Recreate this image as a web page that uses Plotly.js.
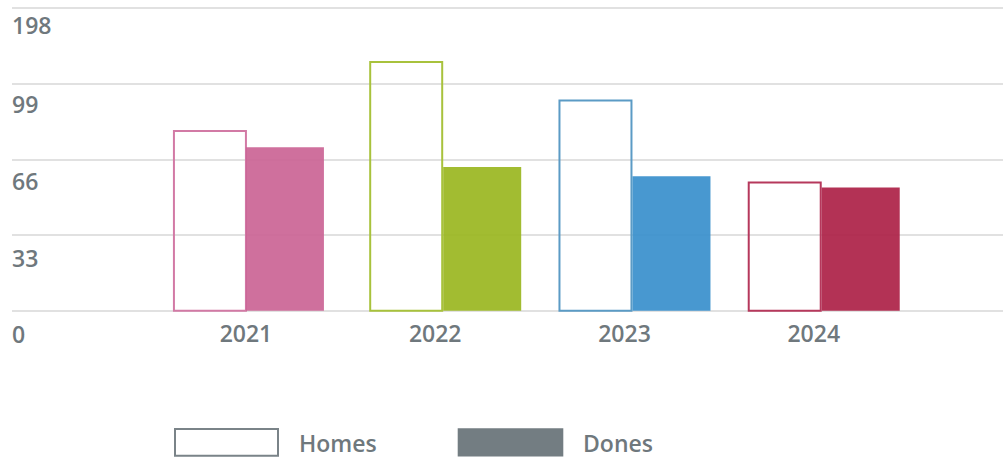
<!DOCTYPE html>
<html><head><meta charset="utf-8">
<script src="https://cdn.plot.ly/plotly-3.0.1.min.js"></script>
<style>html,body{margin:0;padding:0;background:#fff}#chart{width:1003px;height:458px}</style>
</head><body><div id="chart"></div>
<script>
const years = ['2021', '2022', '2023', '2024'];
const homes = [78.4, 108.6, 91.8, 56.0];
const dones = [71.4, 62.7, 58.7, 53.8];
const yTickVals = [0, 33, 66, 99, 132];
const yTickText = ['0', '33', '66', '99', '198'];
const seriesNames = ['Homes', 'Dones'];
const fillColors = ['#cb6495', '#9ab620', '#388fcc', '#ac2146'];
const lineColors = ['#d27aa5', '#a8c23c', '#5b9bc5', '#b6385c'];

const textGray = '#6f787d';
const font = {family: '"Open Sans", sans-serif', size: 23, color: textGray, weight: 600};
const unitPx = 189.27;
const homesOffsetPx = [-72, -65, -65, -65];
const donesOffsetPx = [0, 8, 8, 8];
const yLabelDropPx = [23, 22.5, 21.5, 20, 17];

const traces = [
  {
    type: 'bar', name: seriesNames[0], x: years, y: homes,
    offset: homesOffsetPx.map(p => p / unitPx), width: 72 / unitPx,
    marker: {color: 'rgba(255,255,255,0)', line: {color: lineColors, width: 2}},
    hoverinfo: 'x+y'
  },
  {
    type: 'bar', name: seriesNames[1], x: years, y: dones,
    offset: donesOffsetPx.map(p => p / unitPx), width: 78 / unitPx,
    marker: {color: fillColors, opacity: 0.92, line: {width: 0}},
    hoverinfo: 'x+y'
  }
];

const L = 12, T = 5.7, B = 145, PW = 991, PH = 458 - T - B;
const px = v => (v - L) / PW;
const py = v => (458 - B - v) / PH;

const yLabels = yTickVals.map((v, i) => ({
  xref: 'paper', yref: 'y', x: px(10), y: v, xanchor: 'left', yanchor: 'middle',
  yshift: -yLabelDropPx[i], text: yTickText[i], showarrow: false, font: font
}));

const layout = {
  width: 1003, height: 458,
  margin: {l: L, r: 0, t: T, b: B, pad: 0},
  paper_bgcolor: '#ffffff', plot_bgcolor: '#ffffff',
  showlegend: false,
  barmode: 'overlay',
  font: font,
  xaxis: {
    type: 'category', range: [-1.236, 4.0], fixedrange: true,
    showgrid: false, zeroline: false, showline: false, ticks: '',
    tickfont: font, ticklabelstandoff: 5
  },
  yaxis: {
    range: [-1, 133], fixedrange: true,
    tickvals: yTickVals, ticktext: yTickText, showticklabels: false,
    showgrid: true, gridcolor: '#e1e1e1', gridwidth: 2,
    zeroline: false, showline: false, ticks: ''
  },
  shapes: [
    {type: 'rect', xref: 'paper', yref: 'paper', x0: px(175), x1: px(278), y0: py(456), y1: py(429),
     line: {color: '#7a8388', width: 2}, fillcolor: 'rgba(255,255,255,0)'},
    {type: 'rect', xref: 'paper', yref: 'paper', x0: px(457.7), x1: px(563.3), y0: py(456.7), y1: py(428.3),
     line: {width: 0}, fillcolor: '#737d82'}
  ],
  annotations: yLabels.concat([
    {xref: 'paper', yref: 'paper', x: px(297), y: py(443), xanchor: 'left', yanchor: 'middle',
     text: seriesNames[0], showarrow: false, font: font},
    {xref: 'paper', yref: 'paper', x: px(581), y: py(443), xanchor: 'left', yanchor: 'middle',
     text: seriesNames[1], showarrow: false, font: font}
  ])
};

Plotly.newPlot('chart', traces, layout, {displayModeBar: false, staticPlot: true});
</script>
</body></html>
